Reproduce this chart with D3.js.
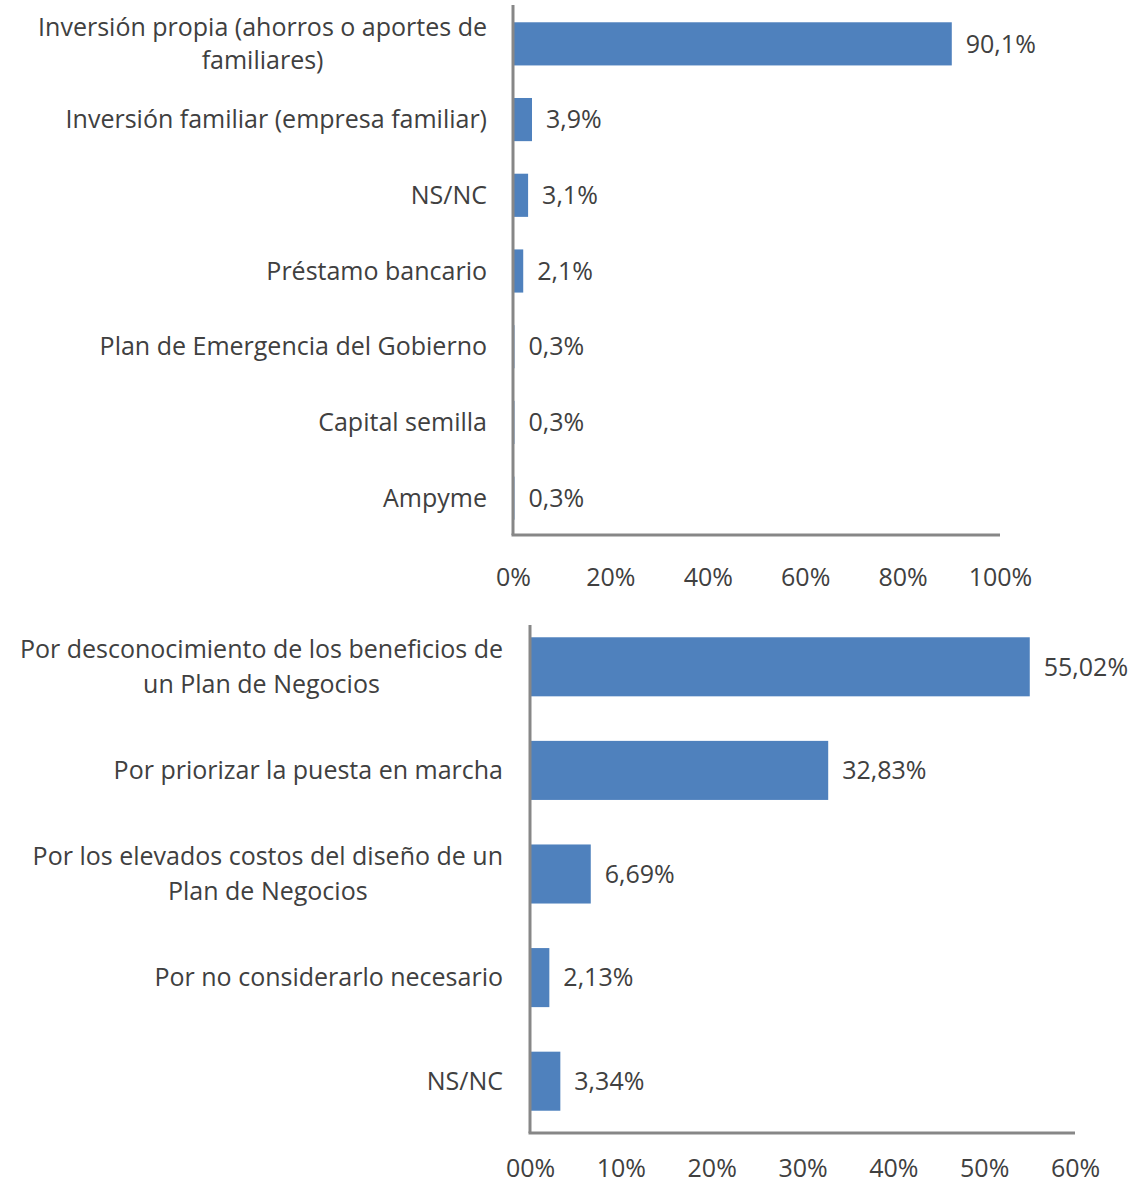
<!DOCTYPE html>
<html>
<head>
<meta charset="utf-8">
<script src="https://cdn.jsdelivr.net/npm/d3@7"></script>
<style>
  body { margin: 0; background: #fff; }
  text { font-family: "Open Sans", sans-serif; fill: #404040; }
</style>
</head>
<body>
<div id="chart"></div>
<script>
// data - chart 1 (fuente de financiamiento)
var fuenteCats = ["Inversión propia (ahorros o aportes de\nfamiliares)", "Inversión familiar (empresa familiar)", "NS/NC",
  "Préstamo bancario", "Plan de Emergencia del Gobierno", "Capital semilla", "Ampyme"];
var fuenteVals = [90.1, 3.9, 3.1, 2.1, 0.3, 0.3, 0.3];
var fuenteLabels = ["90,1%", "3,9%", "3,1%", "2,1%", "0,3%", "0,3%", "0,3%"];
var fuenteTicks = [0, 20, 40, 60, 80, 100];
var fuenteTickLabels = ["0%", "20%", "40%", "60%", "80%", "100%"];

// data - chart 2 (motivos sin plan de negocios)
var motivoCats = ["Por desconocimiento de los beneficios de\nun Plan de Negocios", "Por priorizar la puesta en marcha",
  "Por los elevados costos del diseño de un\nPlan de Negocios", "Por no considerarlo necesario", "NS/NC"];
var motivoVals = [55.02, 32.83, 6.69, 2.13, 3.34];
var motivoLabels = ["55,02%", "32,83%", "6,69%", "2,13%", "3,34%"];
var motivoTicks = [0, 10, 20, 30, 40, 50, 60];
var motivoTickLabels = ["00%", "10%", "20%", "30%", "40%", "50%", "60%"];

var W = 1148, H = 1183;
var barColor = "#4f81bd";
var axisColor = "#878787";
var fontSize = "25px";

var svg = d3.select("#chart")
  .append("svg")
  .attr("width", W)
  .attr("height", H);

// draws one horizontal bar chart
function drawChart(cfg) {
  var g = svg.append("g");

  var x = d3.scaleLinear()
    .domain([0, cfg.max])
    .range([cfg.x0, cfg.x1]);

  var y = d3.scaleBand()
    .domain(cfg.cats)
    .range([cfg.y0, cfg.y1])
    .paddingInner(0.43)
    .paddingOuter(0.215);

  // bars
  g.selectAll("rect.bar")
    .data(cfg.vals)
    .enter()
    .append("rect")
      .attr("class", "bar")
      .attr("x", x(0))
      .attr("y", function(d, i) { return y(cfg.cats[i]); })
      .attr("width", function(d) { return x(d) - x(0); })
      .attr("height", y.bandwidth())
      .style("fill", barColor);

  // value labels
  g.selectAll("text.val")
    .data(cfg.vals)
    .enter()
    .append("text")
      .attr("class", "val")
      .attr("x", function(d) { return x(d) + 14; })
      .attr("y", function(d, i) { return y(cfg.cats[i]) + y.bandwidth() / 2; })
      .attr("dy", "0.35em")
      .style("font-size", fontSize)
      .text(function(d, i) { return cfg.labels[i]; });

  // category labels (multi-line ones are centered as a block, right aligned)
  var lineH = cfg.lineH;
  g.selectAll("text.cat")
    .data(cfg.cats)
    .enter()
    .append("text")
      .attr("class", "cat")
      .style("font-size", fontSize)
      .each(function(d) {
        var lines = d.split("\n");
        var t = d3.select(this);
        var cy = y(d) + y.bandwidth() / 2;
        if (lines.length == 1) {
          t.append("tspan")
            .attr("x", cfg.labelRight)
            .attr("y", cy)
            .attr("dy", "0.35em")
            .attr("text-anchor", "end")
            .text(d);
        } else {
          // measure first line, center the rest under it
          var tmp = t.append("tspan").text(lines[0]);
          var w = tmp.node().getComputedTextLength();
          tmp.remove();
          var mid = cfg.labelRight - w / 2;
          lines.forEach(function(l, k) {
            t.append("tspan")
              .attr("x", mid)
              .attr("y", cy + (k - (lines.length - 1) / 2) * lineH)
              .attr("dy", "0.35em")
              .attr("text-anchor", "middle")
              .text(l);
          });
        }
      });

  // x axis
  var xAxis = d3.axisBottom(x)
    .tickValues(cfg.ticks)
    .tickSize(0)
    .tickPadding(cfg.tickPad)
    .tickFormat(function(d, i) { return cfg.tickLabels[i]; });

  var ax = g.append("g")
    .attr("transform", "translate(0," + cfg.axisY + ")")
    .call(xAxis);
  ax.select(".domain").remove();
  ax.selectAll("text")
    .style("font-size", fontSize)
    .style("font-family", "'Open Sans', sans-serif")
    .style("fill", "#404040");

  // axis lines
  g.append("line")
    .attr("x1", x(0)).attr("x2", x(0))
    .attr("y1", cfg.axisTop).attr("y2", cfg.axisY)
    .style("stroke", axisColor)
    .style("stroke-width", 3);
  g.append("line")
    .attr("x1", x(0) - 1.5).attr("x2", cfg.axisRight)
    .attr("y1", cfg.axisY).attr("y2", cfg.axisY)
    .style("stroke", axisColor)
    .style("stroke-width", 3);
}

drawChart({
  cats: fuenteCats, vals: fuenteVals, labels: fuenteLabels,
  ticks: fuenteTicks, tickLabels: fuenteTickLabels, max: 100,
  x0: 513, x1: 1000, y0: 6, y1: 536,
  axisTop: 5, axisY: 535, axisRight: 1000,
  labelRight: 487, lineH: 33, tickPad: 33
});

drawChart({
  cats: motivoCats, vals: motivoVals, labels: motivoLabels,
  ticks: motivoTicks, tickLabels: motivoTickLabels, max: 60,
  x0: 530, x1: 1075, y0: 615, y1: 1133,
  axisTop: 625, axisY: 1133, axisRight: 1075,
  labelRight: 503, lineH: 35, tickPad: 26
});
</script>
</body>
</html>
